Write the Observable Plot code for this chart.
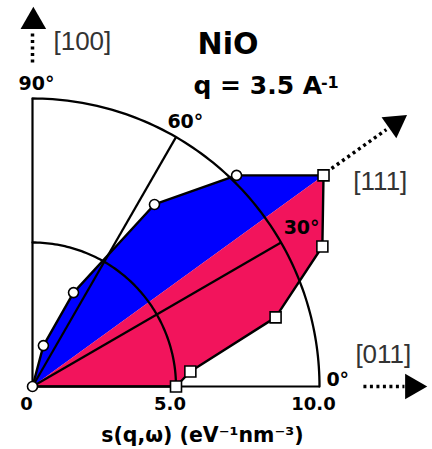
<!DOCTYPE html>
<html>
<head>
<meta charset="utf-8">
<script src="https://cdn.jsdelivr.net/npm/d3@7"></script>
<script src="https://cdn.jsdelivr.net/npm/@observablehq/plot@0.6"></script>
<style>
  html, body { margin: 0; padding: 0; background: #fff; }
  #chart svg { display: block; }
</style>
</head>
<body>
<div id="chart"></div>
<script>
// Upper ([100]-side, blue) branch: s(q,ω) components (x, y)
const blueX = [0, 0.38, 1.43, 4.25, 7.11, 10.14];
const blueY = [0, 1.42, 3.26, 6.32, 7.33, 7.33];
// Lower ([011]-side, pink) branch
const pinkX = [0, 5.0, 5.5, 8.47, 10.1, 10.14];
const pinkY = [0, 0, 0.52, 2.40, 4.86, 7.33];

// polar grid
const arcRadii = [5, 10];
const radialAngles = [0, 30, 60, 90];
const radialLength = 10;

// tick labels
const tickValues = [0, 5, 10];
const tickLabels = ["0", "5.0", "10.0"];

// text labels
const boldLabels = [
  {x: 5.75, y: 11.53, text: "NiO", size: 30},
  {x: 5.61, y: 10.17, text: "q = 3.5 A", size: 25},
  {x: 10.05, y: 10.36, text: "-1", size: 16},
  {x: -0.49, y: 10.31, text: "90\u00B0", size: 19},
  {x: 4.70, y: 8.99, text: "60\u00B0", size: 19},
  {x: 8.75, y: 5.31, text: "30\u00B0", size: 19},
  {x: 10.24, y: 0.03, text: "0\u00B0", size: 19}
];
const dirLabels = [
  {x: 0.73, y: 11.67, text: "[100]"},
  {x: 11.18, y: 6.84, text: "[111]"},
  {x: 11.25, y: 0.83, text: "[011]"}
];
const xLabel = {x: 5.92, y: -1.94, text: "s(q,\u03C9) (eV\u207B\u00B9nm\u207B\u00B3)"};

// direction arrows
const arrowShafts = [
  {x1: 0, y1: 11.25, x2: 0, y2: 12.29},
  {x1: 11.53, y1: 0, x2: 12.96, y2: 0},
  {x1: 10.42, y1: 7.57, x2: 12.33, y2: 8.92}
];
const arrowHeads = [
  {x: 0.03, y: 12.67, rot: 0},
  {x: 13.24, y: 0, rot: 90},
  {x: 12.63, y: 9.13, rot: 54.74}
];

const blue = blueX.map((x, i) => ({x, y: blueY[i]}));
const pink = pinkX.map((x, i) => ({x, y: pinkY[i]}));

const arcs = [];
for (const r of arcRadii) {
  for (let a = 0; a <= 90; a += 1) {
    const t = a * Math.PI / 180;
    arcs.push({r, x: r * Math.cos(t), y: r * Math.sin(t)});
  }
}
const radials = radialAngles.map(a => ({
  x2: radialLength * Math.cos(a * Math.PI / 180),
  y2: radialLength * Math.sin(a * Math.PI / 180)
}));

const circles = blue.slice(0, blue.length - 1);
const squares = pink.slice(1);

const BOLD = "DejaVu Sans, Verdana, sans-serif";
const LIGHT = "Liberation Sans, Arial, Helvetica, sans-serif";

const chart = Plot.plot({
  width: 432,
  height: 449,
  margin: 0,
  style: {background: "#fff", overflow: "visible"},
  x: {domain: [0, 10], range: [32, 319], axis: null},
  y: {domain: [0, 10], range: [386, 98], axis: null},
  marks: [
    Plot.line(blue, {x: "x", y: "y", fill: "#0000ff", stroke: "none"}),
    Plot.line(pink, {x: "x", y: "y", fill: "#f2145c", stroke: "none"}),
    Plot.line(arcs, {x: "x", y: "y", z: "r", stroke: "#000", strokeWidth: 2.3}),
    Plot.link(radials, {x1: 0, y1: 0, x2: "x2", y2: "y2", stroke: "#000", strokeWidth: 2.2}),
    Plot.line(blue, {x: "x", y: "y", stroke: "#000", strokeWidth: 2.4, strokeLinejoin: "round"}),
    Plot.line(pink, {x: "x", y: "y", stroke: "#000", strokeWidth: 2.4, strokeLinejoin: "round"}),
    Plot.dot(circles, {x: "x", y: "y", r: 5, symbol: "circle", fill: "#fff", stroke: "#000", strokeWidth: 1.6}),
    Plot.dot(squares, {x: "x", y: "y", r: 6.2, symbol: "square", fill: "#fff", stroke: "#000", strokeWidth: 1.6}),
    Plot.link(arrowShafts, {x1: "x1", y1: "y1", x2: "x2", y2: "y2", stroke: "#000", strokeWidth: 3.5, strokeDasharray: "3,3.5"}),
    Plot.dot(arrowHeads, {x: "x", y: "y", r: 9.5, symbol: "triangle", rotate: "rot", fill: "#000", stroke: "none"}),
    Plot.text(boldLabels, {x: "x", y: "y", text: "text", fontSize: "size", textAnchor: "start", lineAnchor: "bottom", fontFamily: BOLD, fontWeight: "bold", fill: "#000"}),
    Plot.text(dirLabels, {x: "x", y: "y", text: "text", fontSize: 26, textAnchor: "start", lineAnchor: "bottom", fontFamily: LIGHT, fill: "#333"}),
    Plot.text(tickValues, {x: d => d, y: -0.83, text: (d, i) => tickLabels[i], fontSize: 18, dx: -6, lineAnchor: "bottom", fontFamily: BOLD, fontWeight: "bold", fill: "#000"}),
    Plot.text([xLabel], {x: "x", y: "y", text: "text", fontSize: 20.5, lineAnchor: "bottom", fontFamily: BOLD, fontWeight: "bold", fill: "#000"})
  ]
});
document.getElementById("chart").appendChild(chart);
</script>
</body>
</html>
